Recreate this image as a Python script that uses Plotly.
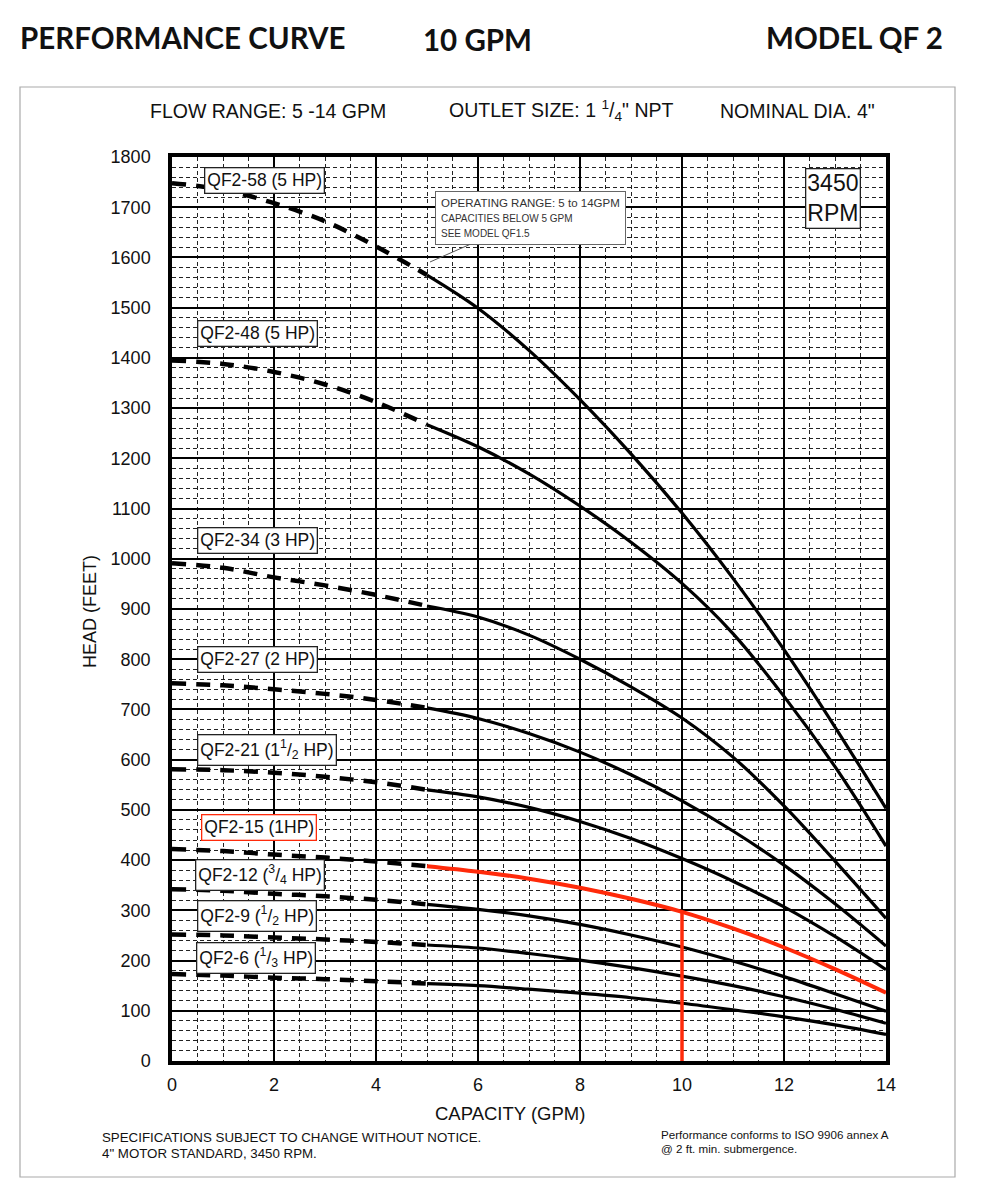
import plotly.graph_objects as go

# ---------------- data ----------------
models = ["QF2-58", "QF2-48", "QF2-34", "QF2-27", "QF2-21", "QF2-15", "QF2-12", "QF2-9", "QF2-6"]
label_texts = [
    "QF2-58 (5 HP)",
    "QF2-48 (5 HP)",
    "QF2-34 (3 HP)",
    "QF2-27 (2 HP)",
    "QF2-21 (1<sup>1</sup>/<sub>2</sub> HP)",
    "QF2-15 (1HP)",
    "QF2-12 (<sup>3</sup>/<sub>4</sub> HP)",
    "QF2-9 (<sup>1</sup>/<sub>2</sub> HP)",
    "QF2-6 (<sup>1</sup>/<sub>3</sub> HP)",
]

flow_below = [0, 1, 2, 3, 4, 5]                       # GPM, below operating range (dashed)
flow_range = [5, 6, 7, 8, 9, 10, 11, 12, 13, 14]      # GPM, operating range (solid)

head_below = {
    "QF2-58": [1748, 1735, 1708, 1672, 1622, 1565],
    "QF2-48": [1395, 1388, 1372, 1347, 1312, 1267],
    "QF2-34": [991, 982, 963, 947, 928, 906],
    "QF2-27": [752, 748, 740, 731, 719, 703],
    "QF2-21": [581, 579, 574, 566, 555, 540],
    "QF2-15": [422, 418, 411, 405, 397, 388],
    "QF2-12": [342, 339, 333, 328, 321, 312],
    "QF2-9":  [252, 250, 246, 242, 237, 231],
    "QF2-6":  [173, 170, 166, 163, 159, 154],
}
head_range = {
    "QF2-58": [1565, 1499, 1415, 1317, 1209, 1091, 961, 819, 665, 503],
    "QF2-48": [1267, 1223, 1169, 1105, 1033, 951, 851, 726, 586, 428],
    "QF2-34": [906, 884, 848, 800, 745, 683, 605, 508, 398, 284],
    "QF2-27": [703, 682, 652, 615, 570, 518, 458, 390, 313, 229],
    "QF2-21": [540, 526, 505, 477, 443, 403, 358, 307, 248, 182],
    "QF2-15": [388, 377, 363, 345, 323, 297, 264, 226, 183, 136],
    "QF2-12": [312, 302, 289, 272, 251, 227, 199, 168, 134, 99],
    "QF2-9":  [231, 225, 214, 201, 186, 169, 150, 128, 103, 75],
    "QF2-6":  [154, 150, 143, 135, 126, 115, 102, 88, 72, 53],
}
highlight_model = "QF2-15"
duty_flow = 10

x_ticks = [0, 2, 4, 6, 8, 10, 12, 14]
y_ticks = list(range(0, 1900, 100))

# label box positions (x left in GPM, y centre in feet)
label_pos = [(0.62, 1754), (0.49, 1448), (0.49, 1037), (0.49, 800), (0.49, 619),
             (0.57, 464), (0.45, 370), (0.49, 289), (0.47, 206)]

# ---------------- figure ----------------
OFF = 8                      # page body margin
W, H = 981 - OFF, 1200 - OFF
L, R, T, B = 172 - OFF, 886 - OFF, 157 - OFF, 1061 - OFF
RED = "#ff2a0a"
FONT = "Liberation Sans, Arial, sans-serif"


def ppx(x):
    return (x - OFF - L) / (R - L)


def ppy(y):
    return (B - (y - OFF)) / (B - T)


fig = go.Figure()

for m in models:
    fig.add_trace(go.Scatter(
        x=flow_below, y=head_below[m], mode="lines", line_shape="spline",
        line=dict(color="black", width=4.5, dash="14px,10px"),
        hoverinfo="skip", showlegend=False))
for m in models:
    col = RED if m == highlight_model else "black"
    w = 4 if m == highlight_model else 3.2
    fig.add_trace(go.Scatter(
        x=flow_range, y=head_range[m], mode="lines", line_shape="spline",
        line=dict(color=col, width=w), hoverinfo="skip", showlegend=False))

duty_head = head_range[highlight_model][flow_range.index(duty_flow)]
fig.add_trace(go.Scatter(x=[duty_flow, duty_flow], y=[0, duty_head], mode="lines",
                         line=dict(color=RED, width=3.5), hoverinfo="skip", showlegend=False))

annotations = []
for txt_, (lx, ly), m in zip(label_texts, label_pos, models):
    annotations.append(dict(
        x=lx, y=ly, xref="x", yref="y", text=txt_, showarrow=False,
        xanchor="left", yanchor="middle",
        font=dict(family=FONT, size=17.5, color="#111"),
        bgcolor="white", bordercolor=(RED if m == highlight_model else "#222"),
        borderwidth=1.3, borderpad=2))

# operating range callout
annotations.append(dict(
    x=5.06, y=1591, xref="x", yref="y",
    text=("<span style='font-size:11.5px'>OPERATING RANGE: 5 to 14GPM</span><br>"
          "<span style='font-size:10px'>CAPACITIES BELOW 5 GPM</span><br>"
          "<span style='font-size:10px'>SEE MODEL QF1.5</span>"),
    showarrow=True, arrowhead=0, arrowwidth=1, arrowcolor="#555",
    ax=100, ay=-44, align="left",
    font=dict(family=FONT, size=11.5, color="#333"),
    bgcolor="white", bordercolor="#666", borderwidth=1, borderpad=5))

# RPM box
annotations.append(dict(
    x=12.96, y=1718, xref="x", yref="y", text="3450<br>RPM", showarrow=False,
    font=dict(family=FONT, size=23, color="#111"), bgcolor="white",
    bordercolor="#222", borderwidth=1.3, borderpad=1, align="center"))


def txt(x, y, s, size, xa="left", bold=False, family=FONT, color="#111", angle=0):
    annotations.append(dict(
        x=ppx(x), y=ppy(y), xref="paper", yref="paper", text=s, showarrow=False,
        xanchor=xa, yanchor="middle", textangle=angle,
        font=dict(family=family, size=size, color=color,
                  weight=("bold" if bold else "normal"))))


TFONT = "Lato, Open Sans, sans-serif"
txt(18, 37, "PERFORMANCE CURVE", 29.5, bold=True, family=TFONT)
txt(477, 39, "10 GPM", 29.5, xa="center", bold=True, family=TFONT)
txt(945, 37, "MODEL QF 2", 29.5, xa="right", bold=True, family=TFONT)

txt(148, 111, "FLOW RANGE: 5 -14 GPM", 19.5)
txt(447, 111, "OUTLET SIZE: 1 <sup>1</sup>/<sub>4</sub>\" NPT", 19.5)
txt(718, 111, "NOMINAL DIA. 4\"", 19.5)

txt(90, 612, "HEAD (FEET)", 18, xa="center", angle=-90)
txt(510, 1113, "CAPACITY (GPM)", 18.5, xa="center")
txt(100, 1137, "SPECIFICATIONS SUBJECT TO CHANGE WITHOUT NOTICE.", 13.3)
txt(100, 1153, "4\" MOTOR STANDARD, 3450 RPM.", 13.3)
txt(659, 1134, "Performance conforms to ISO 9906 annex A", 11.6)
txt(659, 1148, "@ 2 ft. min. submergence.", 11.6)

shapes = [dict(type="rect", xref="paper", yref="paper",
               x0=ppx(20), x1=ppx(955), y0=ppy(1177), y1=ppy(87),
               line=dict(color="#aaaaaa", width=1.2), layer="below")]

fig.update_layout(
    width=W, height=H, margin=dict(l=L, r=W - R, t=T, b=H - B),
    paper_bgcolor="white", plot_bgcolor="white",
    annotations=annotations, shapes=shapes, showlegend=False,
    font=dict(family=FONT, color="#111"),
)
fig.update_xaxes(
    range=[0, 14], tickvals=x_ticks, ticktext=[str(v) for v in x_ticks],
    showgrid=True, gridcolor="black", gridwidth=2,
    minor=dict(dtick=0.5, showgrid=True, gridcolor="#222", gridwidth=1, griddash="4px,3px"),
    showline=True, linecolor="black", linewidth=3.5, mirror=True,
    ticks="", tickfont=dict(size=18, color="#111"), zeroline=False, fixedrange=True,
    ticklabelstandoff=5)
fig.update_yaxes(
    range=[0, 1800], tickvals=y_ticks, ticktext=[str(v) for v in y_ticks],
    showgrid=True, gridcolor="black", gridwidth=2,
    minor=dict(dtick=20, showgrid=True, gridcolor="#222", gridwidth=1, griddash="4px,3px"),
    showline=True, linecolor="black", linewidth=3.5, mirror=True,
    ticks="", tickfont=dict(size=18, color="#111"), zeroline=False, fixedrange=True,
    ticklabelstandoff=14)

fig.write_html("out.html", config={"displayModeBar": False})
